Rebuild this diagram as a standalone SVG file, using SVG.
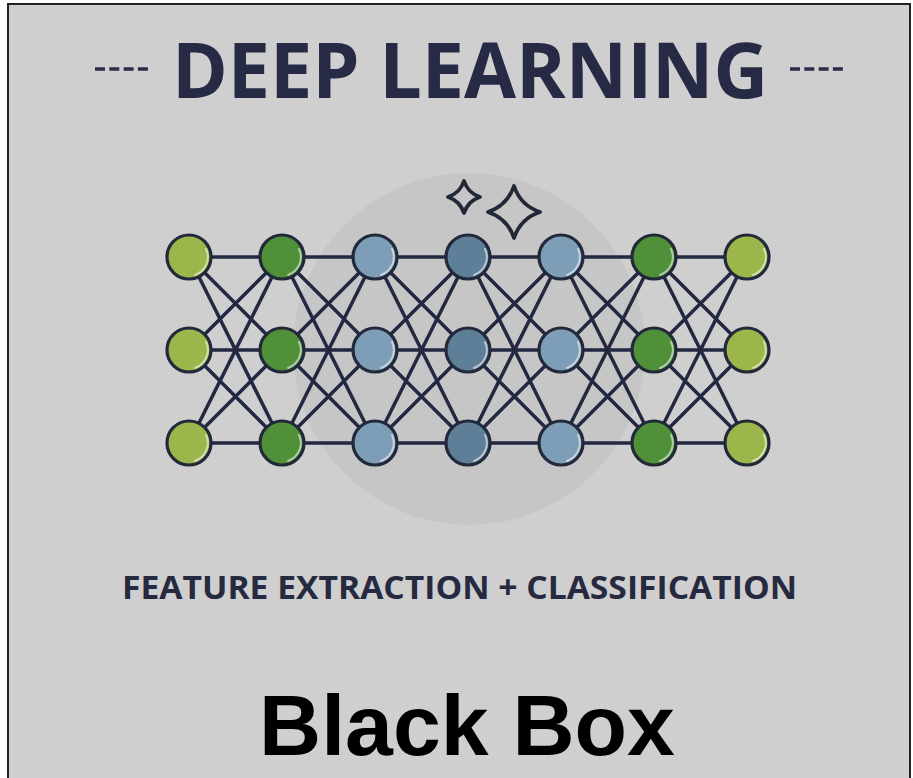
<svg xmlns="http://www.w3.org/2000/svg" width="913" height="778" viewBox="0 0 913 778">
  <style>
    .title { font-family: "Open Sans", "DejaVu Sans", sans-serif; font-weight: 700; fill: #262a45; }
    .sub { font-family: "Open Sans", "DejaVu Sans", sans-serif; font-weight: 700; fill: #262a40; }
    .caption { font-family: "Liberation Sans", Arial, sans-serif; font-weight: 700; fill: #000; }
    .dash { stroke: #2a2d45; stroke-width: 3.5; stroke-dasharray: 10 4.3; fill: none; }
    .edge { stroke: #232842; stroke-width: 3.5; fill: none; }
    .lime { fill: #9db64c; }
    .green { fill: #4f9038; }
    .sky { fill: #7e9db6; }
    .steel { fill: #5f7f99; }
    .spark { fill: none; stroke: #232838; stroke-width: 3.8; stroke-linejoin: round; }
  </style>
  <defs>
    <!-- one neuron: body (fill comes from the layer group) plus a thin highlight on its lower-right rim -->
    <g id="neuron">
      <circle cx="0" cy="0" r="22" stroke="#22293a" stroke-width="3.2"/>
      <path d="M17,-8 A19,19 0 0 1 6,18" fill="none" stroke="#ffffff" stroke-opacity="0.55" stroke-width="2" stroke-linecap="round"/>
    </g>
  </defs>

  <!-- page and frame -->
  <rect x="0" y="0" width="913" height="778" fill="#ffffff"/>
  <rect x="8" y="4" width="902" height="800" fill="#cfcfcf" stroke="#222222" stroke-width="2"/>

  <!-- heading -->
  <line class="dash" x1="95" y1="69" x2="148" y2="69"/>
  <text class="title" x="172" y="98" font-size="77" textLength="596" lengthAdjust="spacingAndGlyphs">DEEP LEARNING</text>
  <line class="dash" x1="790" y1="69" x2="843" y2="69"/>

  <!-- soft disc behind the hidden layers -->
  <circle cx="469" cy="349" r="176" fill="#c6c6c6"/>

  <!-- sparkles -->
  <path class="spark" d="M464,181 Q468,193 480,197 Q468,201 464,213 Q460,201 448,197 Q460,193 464,181 Z"/>
  <path class="spark" d="M514,186 Q520.5,205.5 540,212 Q520.5,218.5 514,238 Q507.5,218.5 488,212 Q507.5,205.5 514,186 Z"/>

  <!-- connectors: every node linked to every node of the next layer -->
  <g id="connectors" class="edge">
    <!-- layer 1 -> 2 -->
    <path d="M189,257 L282,257 M189,257 L282,350 M189,257 L282,443 M189,350 L282,257 M189,350 L282,350 M189,350 L282,443 M189,443 L282,257 M189,443 L282,350 M189,443 L282,443"/>
    <!-- layer 2 -> 3 -->
    <path d="M282,257 L375,257 M282,257 L375,350 M282,257 L375,443 M282,350 L375,257 M282,350 L375,350 M282,350 L375,443 M282,443 L375,257 M282,443 L375,350 M282,443 L375,443"/>
    <!-- layer 3 -> 4 -->
    <path d="M375,257 L468,257 M375,257 L468,350 M375,257 L468,443 M375,350 L468,257 M375,350 L468,350 M375,350 L468,443 M375,443 L468,257 M375,443 L468,350 M375,443 L468,443"/>
    <!-- layer 4 -> 5 -->
    <path d="M468,257 L561,257 M468,257 L561,350 M468,257 L561,443 M468,350 L561,257 M468,350 L561,350 M468,350 L561,443 M468,443 L561,257 M468,443 L561,350 M468,443 L561,443"/>
    <!-- layer 5 -> 6 -->
    <path d="M561,257 L654,257 M561,257 L654,350 M561,257 L654,443 M561,350 L654,257 M561,350 L654,350 M561,350 L654,443 M561,443 L654,257 M561,443 L654,350 M561,443 L654,443"/>
    <!-- layer 6 -> 7 -->
    <path d="M654,257 L747,257 M654,257 L747,350 M654,257 L747,443 M654,350 L747,257 M654,350 L747,350 M654,350 L747,443 M654,443 L747,257 M654,443 L747,350 M654,443 L747,443"/>
  </g>

  <!-- input layer -->
  <g id="n1a" class="lime"><use href="#neuron" x="189" y="257"/></g>
  <g id="n1b" class="lime"><use href="#neuron" x="189" y="350"/></g>
  <g id="n1c" class="lime"><use href="#neuron" x="189" y="443"/></g>
  <!-- layer 2 -->
  <g id="n2a" class="green"><use href="#neuron" x="282" y="257"/></g>
  <g id="n2b" class="green"><use href="#neuron" x="282" y="350"/></g>
  <g id="n2c" class="green"><use href="#neuron" x="282" y="443"/></g>
  <!-- layer 3 -->
  <g id="n3a" class="sky"><use href="#neuron" x="375" y="257"/></g>
  <g id="n3b" class="sky"><use href="#neuron" x="375" y="350"/></g>
  <g id="n3c" class="sky"><use href="#neuron" x="375" y="443"/></g>
  <!-- layer 4 -->
  <g id="n4a" class="steel"><use href="#neuron" x="468" y="257"/></g>
  <g id="n4b" class="steel"><use href="#neuron" x="468" y="350"/></g>
  <g id="n4c" class="steel"><use href="#neuron" x="468" y="443"/></g>
  <!-- layer 5 -->
  <g id="n5a" class="sky"><use href="#neuron" x="561" y="257"/></g>
  <g id="n5b" class="sky"><use href="#neuron" x="561" y="350"/></g>
  <g id="n5c" class="sky"><use href="#neuron" x="561" y="443"/></g>
  <!-- layer 6 -->
  <g id="n6a" class="green"><use href="#neuron" x="654" y="257"/></g>
  <g id="n6b" class="green"><use href="#neuron" x="654" y="350"/></g>
  <g id="n6c" class="green"><use href="#neuron" x="654" y="443"/></g>
  <!-- output layer -->
  <g id="n7a" class="lime"><use href="#neuron" x="747" y="257"/></g>
  <g id="n7b" class="lime"><use href="#neuron" x="747" y="350"/></g>
  <g id="n7c" class="lime"><use href="#neuron" x="747" y="443"/></g>

  <!-- captions -->
  <text class="sub" x="122" y="599" font-size="33" textLength="675" lengthAdjust="spacingAndGlyphs">FEATURE EXTRACTION + CLASSIFICATION</text>
  <text class="caption" x="467" y="755" font-size="86" text-anchor="middle">Black Box</text>
</svg>
